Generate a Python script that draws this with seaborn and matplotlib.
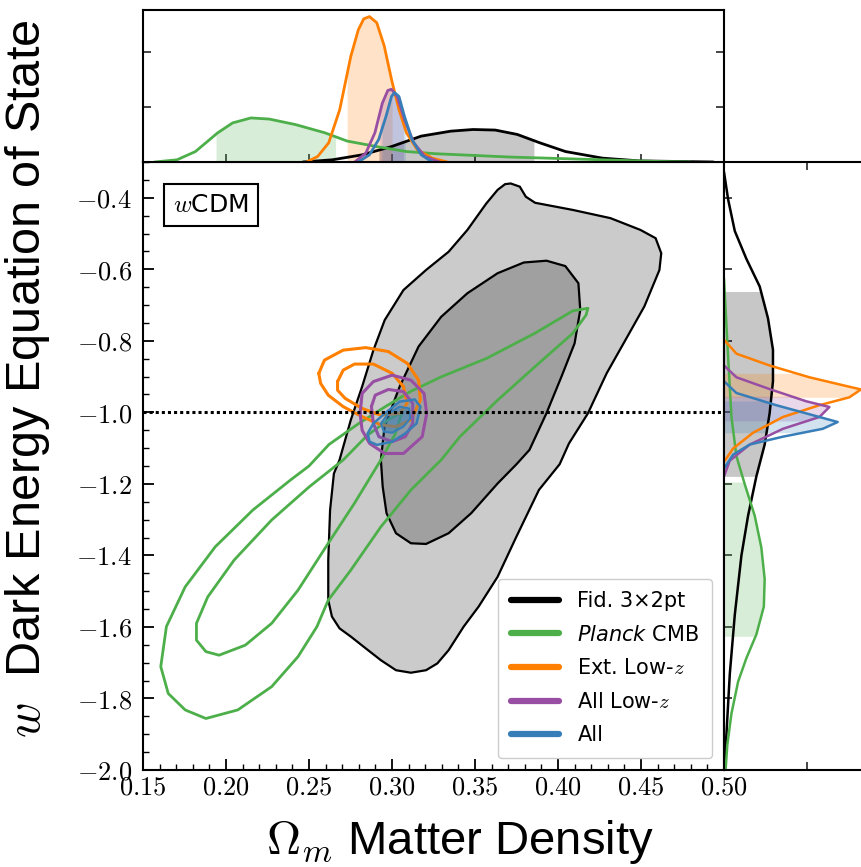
import numpy as np
import matplotlib
matplotlib.use("Agg")
import matplotlib.pyplot as plt
from matplotlib.lines import Line2D
from matplotlib.ticker import MultipleLocator, FormatStrFormatter
import seaborn as sns

# ---------------- 2D contours (Omega_m, w) ----------------
fid_outer_om = [0.3715, 0.377, 0.3806, 0.3862, 0.4089, 0.4316, 0.4497, 0.4588, 0.4622, 0.4611,
                0.452, 0.4406, 0.4293, 0.418, 0.4066, 0.401, 0.3885, 0.3749, 0.3636, 0.3522,
                0.3432, 0.3341, 0.3273, 0.3205, 0.3114, 0.3024, 0.2933, 0.2842, 0.2752, 0.2684,
                0.2638, 0.2616, 0.2616, 0.2627, 0.265, 0.2684, 0.2752, 0.282, 0.2888, 0.2956,
                0.3069, 0.3205, 0.3341, 0.3454, 0.3568, 0.3636, 0.3681]
fid_outer_w = [-0.360, -0.369, -0.397, -0.414, -0.434, -0.457, -0.490, -0.513, -0.555, -0.602,
               -0.704, -0.798, -0.891, -1.003, -1.087, -1.145, -1.217, -1.348, -1.460, -1.543,
               -1.599, -1.665, -1.702, -1.721, -1.728, -1.721, -1.693, -1.660, -1.627, -1.604,
               -1.571, -1.525, -1.413, -1.273, -1.171, -1.133, -1.021, -0.928, -0.826, -0.742,
               -0.658, -0.602, -0.551, -0.490, -0.416, -0.378, -0.362]

fid_inner_om = [0.3931, 0.4044, 0.4123, 0.4134, 0.41, 0.4021, 0.393, 0.3828, 0.375, 0.3636,
                0.3477, 0.3341, 0.3205, 0.3114, 0.3024, 0.2967, 0.2944, 0.2933, 0.2955, 0.3046,
                0.316, 0.3296, 0.3454, 0.3636, 0.3794]
fid_inner_w = [-0.576, -0.591, -0.639, -0.714, -0.807, -0.900, -1.003, -1.105, -1.145, -1.199,
               -1.282, -1.338, -1.368, -1.366, -1.338, -1.282, -1.208, -1.133, -1.040, -0.928,
               -0.816, -0.733, -0.667, -0.611, -0.581]

planck_outer_om = [0.418, 0.409, 0.386, 0.357, 0.330, 0.311, 0.296, 0.280, 0.262, 0.250,
                   0.2389, 0.2162, 0.1935, 0.1754, 0.1641, 0.1607, 0.1652, 0.1754, 0.1879, 0.2071,
                   0.2275, 0.2434, 0.2548, 0.2616, 0.2752, 0.2933, 0.3114, 0.3296, 0.3409, 0.3636,
                   0.3862, 0.4089, 0.4169, 0.418]
planck_outer_w = [-0.709, -0.716, -0.779, -0.849, -0.900, -0.942, -0.984, -1.031, -1.090, -1.150,
                  -1.189, -1.273, -1.376, -1.488, -1.599, -1.711, -1.786, -1.832, -1.856, -1.832,
                  -1.767, -1.683, -1.599, -1.525, -1.441, -1.320, -1.217, -1.133, -1.068, -0.966,
                  -0.872, -0.779, -0.728, -0.709]

planck_inner_om = [0.306, 0.298, 0.285, 0.2706, 0.2502, 0.2275, 0.2049, 0.189, 0.1822, 0.1822,
                   0.1879, 0.1958, 0.2116, 0.2275, 0.2434, 0.2616, 0.2774, 0.2933, 0.302, 0.306]
planck_inner_w = [-1.000, -1.020, -1.065, -1.133, -1.208, -1.301, -1.413, -1.516, -1.590, -1.637,
                  -1.669, -1.679, -1.651, -1.590, -1.497, -1.366, -1.254, -1.133, -1.060, -1.000]

ext_outer_om = [0.2559, 0.2593, 0.2706, 0.2842, 0.2978, 0.3092, 0.3160, 0.3171, 0.3114, 0.3024,
                0.2933, 0.282, 0.2706, 0.2616, 0.2570, 0.2559]
ext_outer_w = [-0.891, -0.854, -0.826, -0.819, -0.830, -0.863, -0.910, -0.966, -1.021, -1.040,
               -1.035, -1.012, -0.984, -0.952, -0.919, -0.891]
ext_inner_om = [0.2672, 0.2706, 0.2774, 0.2888, 0.3001, 0.3069, 0.3091, 0.3046, 0.2933, 0.282,
                0.2718, 0.2672, 0.2672]
ext_inner_w = [-0.914, -0.882, -0.865, -0.865, -0.891, -0.928, -0.975, -1.003, -1.008, -0.989,
               -0.961, -0.938, -0.914]

lowz_outer_om = [0.2808, 0.282, 0.2888, 0.3001, 0.3114, 0.3193, 0.3209, 0.3182, 0.3069, 0.2956,
                 0.2865, 0.282, 0.2808]
lowz_outer_w = [-1.003, -0.947, -0.914, -0.896, -0.910, -0.947, -1.003, -1.068, -1.115, -1.115,
                -1.087, -1.050, -1.003]
lowz_inner_om = [0.2876, 0.2899, 0.2978, 0.3069, 0.3125, 0.3125, 0.308, 0.3001, 0.2921, 0.2888, 0.2876]
lowz_inner_w = [-0.984, -0.952, -0.936, -0.942, -0.975, -1.031, -1.068, -1.082, -1.068, -1.031, -0.984]

all_outer_om = [0.2853, 0.2888, 0.2956, 0.3046, 0.3137, 0.3171, 0.3148, 0.308, 0.3001, 0.291,
                0.2865, 0.2853]
all_outer_w = [-1.059, -1.031, -1.003, -0.970, -0.964, -0.984, -1.031, -1.059, -1.082, -1.091,
               -1.082, -1.059]
all_inner_om = [0.2933, 0.2978, 0.3046, 0.3103, 0.311, 0.3069, 0.3001, 0.2951, 0.2933]
all_inner_w = [-1.031, -1.003, -0.984, -0.989, -1.017, -1.040, -1.057, -1.054, -1.031]

# ---------------- 1D marginals of Omega_m (top panel) ----------------
om_fid = [0.2463, 0.2641, 0.282, 0.2997, 0.3176, 0.3354, 0.3488, 0.3622, 0.3755, 0.3889,
          0.4045, 0.4268, 0.4491, 0.4714, 0.4936]
p_om_fid = [0, 0.04, 0.13, 0.28, 0.47, 0.56, 0.59, 0.58, 0.50, 0.35, 0.19, 0.07, 0.02, 0.01, 0]
om_planck = [0.157, 0.1705, 0.1816, 0.195, 0.204, 0.215, 0.226, 0.2418, 0.2596, 0.273, 0.2908,
             0.3087, 0.3265, 0.3488, 0.3711, 0.3933, 0.4156, 0.4379, 0.4602, 0.48]
p_om_planck = [0, 0.04, 0.19, 0.53, 0.71, 0.80, 0.78, 0.68, 0.53, 0.38, 0.28, 0.19, 0.15, 0.12,
               0.09, 0.07, 0.05, 0.03, 0.01, 0]
om_ext = [0.2485, 0.2552, 0.2619, 0.2685, 0.2752, 0.2797, 0.283, 0.2864, 0.2908, 0.2953, 0.2997,
          0.3042, 0.3087, 0.3153, 0.3243, 0.3332]
p_om_ext = [0, 0.10, 0.35, 0.95, 1.92, 2.40, 2.60, 2.64, 2.53, 2.11, 1.50, 0.95, 0.53, 0.22, 0.07, 0]
om_lowz = [0.2775, 0.2842, 0.2897, 0.2942, 0.2975, 0.2997, 0.3031, 0.3075, 0.3131, 0.3198, 0.3287]
p_om_lowz = [0, 0.16, 0.53, 1.07, 1.30, 1.32, 1.19, 0.77, 0.35, 0.10, 0]
om_all = [0.2797, 0.2864, 0.292, 0.2964, 0.2997, 0.3015, 0.3042, 0.3075, 0.312, 0.3176, 0.3243]
p_om_all = [0, 0.13, 0.41, 0.83, 1.19, 1.26, 1.19, 0.83, 0.41, 0.13, 0]

# 68% intervals in Omega_m
band_om = {"fid": (0.292, 0.3855), "planck": (0.194, 0.266), "ext": (0.273, 0.300),
           "lowz": (0.2926, 0.3069), "all": (0.294, 0.308)}

# ---------------- 1D marginals of w (right panel) ----------------
w_fid = [-0.328, -0.405, -0.493, -0.571, -0.648, -0.737, -0.825, -0.913, -1.002, -1.090, -1.179,
         -1.289, -1.400, -1.566, -1.731, -1.897, -1.997]
p_w_fid = [0, 0.05, 0.13, 0.27, 0.43, 0.53, 0.59, 0.59, 0.55, 0.49, 0.39, 0.29, 0.21, 0.13, 0.07,
           0.03, 0.0]
w_planck = [-0.626, -0.847, -1.013, -1.123, -1.201, -1.289, -1.378, -1.466, -1.543, -1.621, -1.687,
            -1.753, -1.842, -1.930, -1.997]
p_w_planck = [0.0, 0.05, 0.09, 0.15, 0.25, 0.37, 0.45, 0.49, 0.48, 0.39, 0.27, 0.17, 0.09, 0.04, 0.02]
w_ext = [-0.797, -0.836, -0.869, -0.902, -0.924, -0.936, -0.958, -0.980, -1.013, -1.057, -1.101, -1.135]
p_w_ext = [0, 0.15, 0.55, 1.03, 1.43, 1.65, 1.51, 1.15, 0.71, 0.35, 0.11, 0.01]
w_lowz = [-0.869, -0.902, -0.935, -0.969, -0.985, -1.013, -1.046, -1.090, -1.135, -1.179]
p_w_lowz = [0, 0.15, 0.55, 0.99, 1.27, 1.15, 0.71, 0.31, 0.07, 0]
w_all = [-0.913, -0.946, -0.980, -1.013, -1.027, -1.046, -1.068, -1.090, -1.118, -1.157]
p_w_all = [0, 0.15, 0.63, 1.15, 1.37, 1.19, 0.71, 0.31, 0.11, 0]

band_w = {"fid": (-1.179, -0.662), "planck": (-1.626, -1.195), "ext": (-0.958, -0.891),
          "lowz": (-1.024, -0.955), "all": (-1.057, -0.968)}

labels = ["Fid. 3×2pt", r"$\mathit{Planck}$ CMB", r"Ext. Low-$z$", r"All Low-$z$", "All"]

# ---------------- style ----------------
sns.set_style("ticks")
plt.rcParams["font.family"] = ["DejaVu Sans"]
plt.rcParams["mathtext.fontset"] = "cm"
plt.rcParams["text.color"] = "black"

pal = sns.color_palette("Set1")
colors = {"fid": "black", "planck": pal[2], "ext": pal[4], "lowz": pal[3], "all": pal[1]}

fig = plt.figure(figsize=(8.62, 8.67), dpi=100)
W, H = 862, 867


def box(l, t, r, b):
    return [l / W, 1 - b / H, (r - l) / W, (b - t) / H]


ax = fig.add_axes(box(143, 162, 724, 770))
axt = fig.add_axes(box(143, 10, 724, 162))
axr = fig.add_axes(box(724, 162, 876, 770))

# ---- main panel ----
ax.fill(fid_outer_om, fid_outer_w, fc="#cbcbcb", ec="black", lw=1.6, zorder=1)
ax.fill(fid_inner_om, fid_inner_w, fc="#a0a0a0", ec="black", lw=1.6, zorder=2)
for om, w in [(planck_outer_om, planck_outer_w), (planck_inner_om, planck_inner_w)]:
    ax.plot(om, w, color=colors["planck"], lw=2, zorder=3)
for om, w in [(ext_outer_om, ext_outer_w), (ext_inner_om, ext_inner_w)]:
    ax.plot(om, w, color=colors["ext"], lw=2.2, zorder=4)
for om, w in [(lowz_outer_om, lowz_outer_w), (lowz_inner_om, lowz_inner_w)]:
    ax.plot(om, w, color=colors["lowz"], lw=2.2, zorder=5)
ax.fill(all_outer_om, all_outer_w, fc=(*colors["all"], 0.15), ec=colors["all"], lw=1.8, zorder=6)
ax.fill(all_inner_om, all_inner_w, fc=(*colors["all"], 0.5), ec=colors["all"], lw=1.5, zorder=6)
ax.axhline(-1.0, color="black", ls=(0, (1, 1)), lw=2.2, zorder=7)

ax.set_xlim(0.15, 0.5)
ax.set_ylim(-2.0, -0.3)
ax.xaxis.set_major_locator(MultipleLocator(0.05))
ax.xaxis.set_minor_locator(MultipleLocator(0.01))
ax.yaxis.set_major_locator(MultipleLocator(0.2))
ax.yaxis.set_minor_locator(MultipleLocator(0.05))
ax.xaxis.set_major_formatter(FormatStrFormatter(r"$%.2f$"))
ax.yaxis.set_major_formatter(FormatStrFormatter(r"$%.1f$"))
ax.tick_params(which="both", direction="in", top=False, right=False, labelsize=19, colors="black")
ax.tick_params(which="major", length=8, width=1.3)
ax.tick_params(which="minor", length=4, width=1.0)
ax.tick_params(axis="x", pad=3)
ax.tick_params(axis="y", pad=8)
ax.set_xlabel("")
ax.set_ylabel("")

ax.text(0.117, 0.929, r"$w$CDM", transform=ax.transAxes, ha="center", va="center", fontsize=18,
        bbox=dict(boxstyle="square,pad=0.35", fc="white", ec="black", lw=1.5), zorder=9)

handles = [Line2D([], [], color=colors[k], lw=4.5) for k in ["fid", "planck", "ext", "lowz", "all"]]
leg = ax.legend(handles, labels, loc="lower right", bbox_to_anchor=(0.979, 0.02), borderaxespad=0,
                fontsize=15, frameon=True, fancybox=True, edgecolor="#cccccc", framealpha=1,
                handlelength=2.3, handletextpad=0.9, labelspacing=0.65, borderpad=0.6)
leg.get_texts()[1].set_math_fontfamily("dejavusans")
for t in leg.get_texts():
    t.set_color("black")
leg.set_zorder(10)

# ---- top marginal ----
tops = [("fid", om_fid, p_om_fid), ("planck", om_planck, p_om_planck), ("ext", om_ext, p_om_ext),
        ("lowz", om_lowz, p_om_lowz), ("all", om_all, p_om_all)]
for key, om, p in tops:
    lo, hi = band_om[key]
    xs = np.linspace(lo, hi, 200)
    axt.fill_between(xs, 0, np.interp(xs, om, p), color=colors[key], alpha=0.22, lw=0)
for key, om, p in tops:
    sns.lineplot(x=om, y=p, ax=axt, color=colors[key], lw=2, sort=False, estimator=None)

axt.set_xlim(0.15, 0.5)
axt.set_ylim(0, 2.76)
axt.xaxis.set_major_locator(MultipleLocator(0.05))
axt.yaxis.set_major_locator(MultipleLocator(1))
axt.tick_params(direction="in", left=True, right=True, bottom=True, top=False,
                labelleft=False, labelbottom=False, length=6, width=1.2)
axt.set_xlabel("")
axt.set_ylabel("")

# ---- right marginal ----
rights = [("fid", w_fid, p_w_fid), ("planck", w_planck, p_w_planck), ("ext", w_ext, p_w_ext),
          ("lowz", w_lowz, p_w_lowz), ("all", w_all, p_w_all)]
for key, w, p in rights:
    lo, hi = band_w[key]
    ys = np.linspace(lo, hi, 200)
    order = np.argsort(w)
    axr.fill_betweenx(ys, 0, np.interp(ys, np.array(w)[order], np.array(p)[order]),
                      color=colors[key], alpha=0.22, lw=0)
for key, w, p in rights:
    sns.lineplot(x=p, y=w, ax=axr, color=colors[key], lw=1.8, sort=False, estimator=None, orient="y")

axr.set_ylim(-2.0, -0.3)
axr.set_xlim(0, 152 / 83)
axr.yaxis.set_major_locator(MultipleLocator(0.2))
axr.set_xticks([1.0])
axr.tick_params(direction="in", left=True, right=False, bottom=True, top=True,
                labelleft=False, labelbottom=False, length=6, width=1.2)
axr.spines["right"].set_visible(False)
axr.set_xlabel("")
axr.set_ylabel("")

for a in (ax, axt, axr):
    for s in a.spines.values():
        s.set_linewidth(1.5)
        s.set_color("black")

# ---- axis titles ----
fig.text(0.032, 0.563, r"$w$  Dark Energy Equation of State", rotation=90, ha="center", va="center",
         fontsize=35, color="black", family=["Liberation Sans", "DejaVu Sans"])
fig.text(0.534, 0.029, r"$\Omega_m$ Matter Density", ha="center", va="center",
         fontsize=34, color="black", family=["Liberation Sans", "DejaVu Sans"])

fig.savefig("out.png", dpi=100)
